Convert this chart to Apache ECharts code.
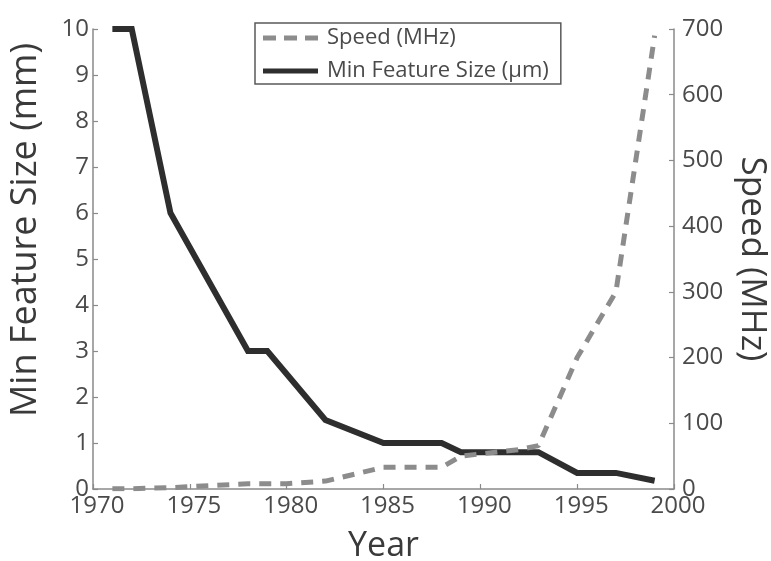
<!DOCTYPE html>
<html>
<head>
<meta charset="utf-8">
<script src="https://cdn.jsdelivr.net/npm/echarts@6/dist/echarts.min.js"></script>
<style>
  html, body { margin: 0; padding: 0; background: #fff; }
  #chart { width: 771px; height: 561px; }
</style>
</head>
<body>
<div id="chart"></div>
<script>
// Min feature size (left axis)
const featureYears = [1971, 1972, 1974, 1978, 1979, 1982, 1985, 1988, 1989, 1993, 1995, 1997, 1999];
const featureSize  = [10,   10,   6,    3,    3,    1.5,  1,    1,    0.8,  0.8,  0.35, 0.35, 0.18];

// Clock speed (right axis)
const speedYears = [1971, 1972, 1974, 1976, 1978, 1980, 1982, 1985, 1988, 1989, 1992, 1993, 1995, 1997, 1999];
const speedMHz   = [0.5,  0.5,  2,    5,    8,    8,    12,   33,   33,   50,   60,   66,   200,  300,  690];

const xTicks = { min: 1970, max: 2000, step: 5 };
const leftTicks = { min: 0, max: 10, step: 1 };
const rightTicks = { min: 0, max: 700, step: 100 };

const FONT = '"Open Sans", "Noto Sans", sans-serif';
const AXIS_GREY = '#8a8a8a';
const LABEL_GREY = '#4a4a4a';

const chart = echarts.init(document.getElementById('chart'), null, { renderer: 'canvas' });

const axisLine = { show: true, lineStyle: { color: AXIS_GREY, width: 1.5 } };
const axisTick = { show: true, inside: true, length: 5, lineStyle: { color: AXIS_GREY, width: 1.2 } };

// legend glyphs: three dashes / one solid bar
const dashIcon = 'path://M0,0H13V5H0Z M21,0H34V5H21Z M42,0H55V5H42Z';
const solidIcon = 'path://M0,0H55V5H0Z';

chart.setOption({
    backgroundColor: '#fff',
    animation: false,
    textStyle: { fontFamily: FONT },
    grid: { left: 93, right: 97, top: 29, bottom: 72, containLabel: false, outerBoundsMode: 'none' },
    legend: {
        data: [
            { name: 'Speed (MHz)', icon: dashIcon },
            { name: 'Min Feature Size (\u03bcm)', icon: solidIcon }
        ],
        orient: 'vertical',
        left: 255, top: 23,
        padding: [4, 12, 2, 8],
        borderColor: '#5a5a5a', borderWidth: 1.5,
        itemWidth: 55, itemHeight: 5, itemGap: 11,
        textStyle: { fontFamily: FONT, fontSize: 22, color: LABEL_GREY, lineHeight: 22, padding: [0, 0, 0, 4] }
    },
    xAxis: {
        type: 'value',
        min: xTicks.min, max: xTicks.max, interval: xTicks.step,
        name: 'Year', nameLocation: 'middle', nameGap: 40,
        nameTextStyle: { fontFamily: FONT, fontSize: 34, color: '#3a3a3a' },
        axisLine: axisLine,
        axisTick: axisTick,
        splitLine: { show: false },
        axisLabel: { fontFamily: FONT, fontSize: 24, color: LABEL_GREY, margin: 5, padding: [0, 0, 0, 8], formatter: v => String(v) }
    },
    yAxis: [
        {
            type: 'value', position: 'left',
            min: leftTicks.min, max: leftTicks.max, interval: leftTicks.step,
            name: 'Min Feature Size (mm)', nameLocation: 'middle', nameGap: 49, nameRotate: 90,
            nameTextStyle: { fontFamily: FONT, fontSize: 36, color: '#3a3a3a', padding: [0, 0, 0, 58] },
            axisLine: axisLine,
            axisTick: axisTick,
            splitLine: { show: false },
            axisLabel: { fontFamily: FONT, fontSize: 24, color: LABEL_GREY, margin: 4, padding: [0, 0, 12, 0] }
        },
        {
            type: 'value', position: 'right',
            min: rightTicks.min, max: rightTicks.max, interval: rightTicks.step,
            name: 'Speed (MHz)', nameLocation: 'middle', nameGap: 58, nameRotate: -90,
            nameTextStyle: { fontFamily: FONT, fontSize: 35, color: '#3a3a3a' },
            axisLine: axisLine,
            axisTick: axisTick,
            splitLine: { show: false },
            axisLabel: { fontFamily: FONT, fontSize: 24, color: LABEL_GREY, margin: 8, padding: [0, 0, 10, 0] }
        }
    ],
    series: [
        {
            name: 'Min Feature Size (\u03bcm)',
            type: 'line', yAxisIndex: 0,
            symbol: 'none',
            lineStyle: { color: '#2e2e2e', width: 6, join: 'miter' },
            itemStyle: { color: '#2e2e2e' },
            data: featureYears.map((y, i) => [y, featureSize[i]])
        },
        {
            name: 'Speed (MHz)',
            type: 'line', yAxisIndex: 1,
            symbol: 'none',
            lineStyle: { color: '#8c8c8c', width: 5, type: [12, 9] },
            itemStyle: { color: '#8c8c8c' },
            data: speedYears.map((y, i) => [y, speedMHz[i]])
        }
    ]
});
</script>
</body>
</html>
